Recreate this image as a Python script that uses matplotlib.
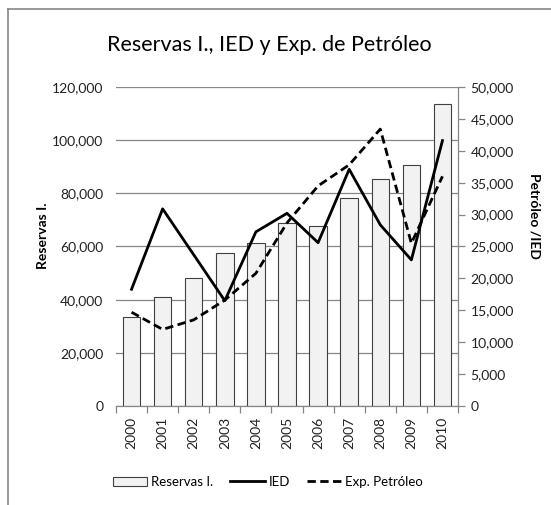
import numpy as np
import matplotlib
matplotlib.use("Agg")
import matplotlib.pyplot as plt
from matplotlib.patches import Patch
from matplotlib.lines import Line2D

plt.rcParams['font.family'] = ['Lato', 'DejaVu Sans']

# Datos
anios = ['2000', '2001', '2002', '2003', '2004', '2005', '2006', '2007', '2008', '2009', '2010']
reservas = [33600, 40900, 48100, 57400, 61500, 68700, 67800, 78100, 85400, 90700, 113600]
ied = [18300, 30900, 23700, 16500, 27300, 30200, 25600, 37100, 28400, 22900, 41600]
exp_petroleo = [14700, 12000, 13500, 16600, 20800, 28700, 34500, 37800, 43400, 25500, 36000]

grey = '#878787'
fig = plt.figure(figsize=(5.51, 5.05), dpi=100)

# marco del area del grafico (solo borde superior e izquierdo visibles)
fig.add_artist(Line2D([8/551, 8/551], [0, 1 - 9/505], color=grey, lw=1.2))
fig.add_artist(Line2D([8/551, 1], [1 - 9/505, 1 - 9/505], color=grey, lw=1.2))

ax = fig.add_axes([116/551, 99/505, 342/551, 319/505])
x = np.arange(len(anios))

ax.bar(x, reservas, width=0.56, color='#f2f2f2', edgecolor='#404040', linewidth=0.8, zorder=2)
ax.set_xlim(-0.5, len(anios) - 0.5)
ax.set_ylim(0, 120000)
ax.set_yticks(np.arange(0, 120001, 20000))
ax.set_yticklabels([f'{v:,}' for v in range(0, 120001, 20000)])
ax.yaxis.grid(True, color=grey, lw=0.9, zorder=0)
ax.set_axisbelow(True)
ax.tick_params(axis='y', length=0, labelsize=10, pad=9, colors='#222222')

ax.set_xticks(x)
ax.set_xticklabels(anios, rotation=90)
ax.set_xticks(np.arange(-0.5, len(anios)), minor=True)
ax.tick_params(axis='x', which='major', length=0, labelsize=10, pad=8, colors='#222222')
ax.tick_params(axis='x', which='minor', length=5, color=grey, width=0.9)

for s in ['top', 'left', 'right']:
    ax.spines[s].set_visible(False)
ax.spines['bottom'].set_color(grey)
ax.spines['bottom'].set_linewidth(0.9)

ax.set_ylabel('Reservas I.', fontsize=10, fontweight='bold', va='center', ha='center')
ax.yaxis.set_label_coords(-0.213, 0.533)

ax2 = ax.twinx()
ax2.plot(x, ied, color='black', lw=2.0, zorder=3)
ax2.plot(x, exp_petroleo, color='black', lw=2.0, dashes=(3, 1.6), zorder=3)
ax2.set_ylim(0, 50000)
ax2.set_yticks(np.arange(0, 50001, 5000))
ax2.set_yticklabels([f'{v:,}' for v in range(0, 50001, 5000)])
ax2.tick_params(axis='y', length=5, color=grey, width=0.9, labelsize=10, pad=4, colors='#222222')
ax2.tick_params(axis='y', color=grey)
for s in ['top', 'left', 'bottom']:
    ax2.spines[s].set_visible(False)
ax2.spines['right'].set_color(grey)
ax2.spines['right'].set_linewidth(0.9)
ax2.set_ylabel('Petróleo /IED', fontsize=10, fontweight='bold', rotation=-90, va='center', ha='center')
ax2.yaxis.set_label_coords(1.225, 0.596)

fig.text(269/551, 1 - 45/505, 'Reservas I., IED y Exp. de Petróleo', ha='center', va='center',
         fontsize=15.5, color='black')

handles = [Patch(facecolor='#f2f2f2', edgecolor='#404040', linewidth=0.8),
           Line2D([], [], color='black', lw=2.0),
           Line2D([], [], color='black', lw=2.0, dashes=(3, 1.6))]
fig.legend(handles, ['Reservas I.', 'IED', 'Exp. Petróleo'], loc='center',
           bbox_to_anchor=(268/551, 1 - 482/505), ncol=3, frameon=False, fontsize=9.5,
           handlelength=2.6, handletextpad=0.3, columnspacing=1.3)

fig.savefig('out.png', dpi=100)
